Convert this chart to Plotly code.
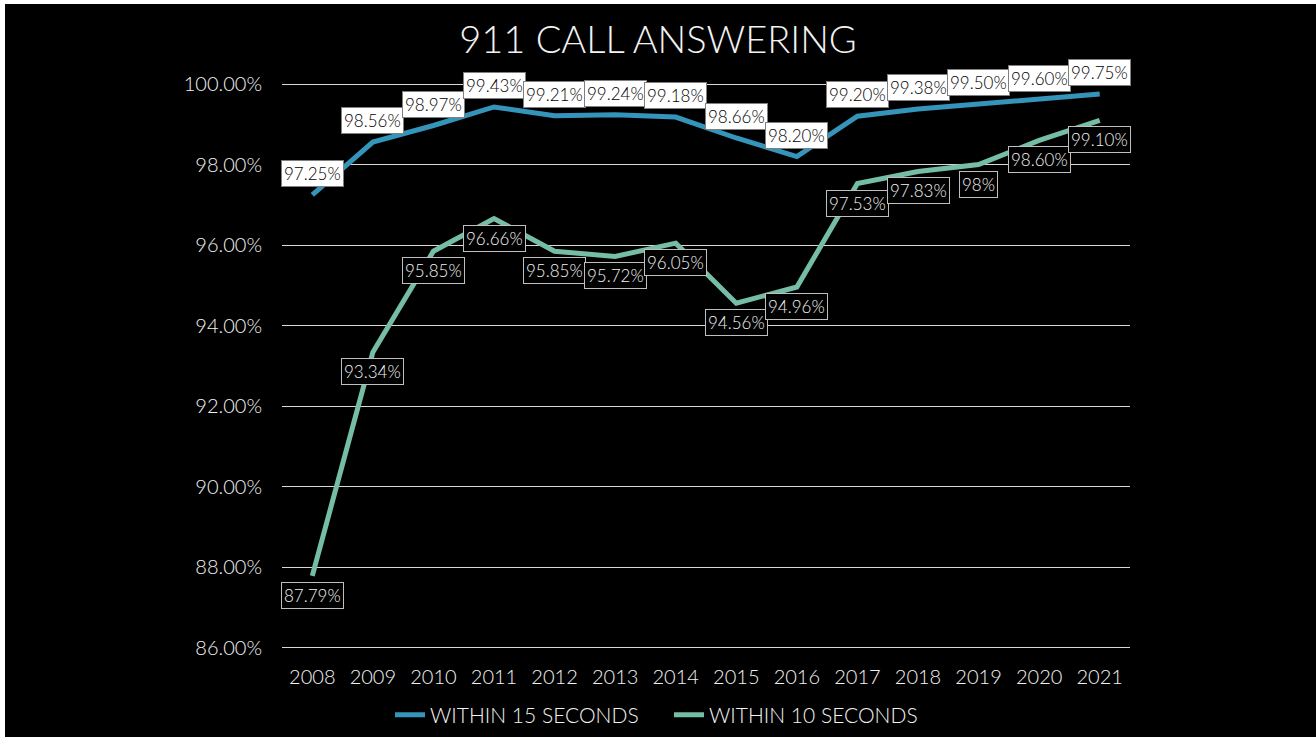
import plotly.graph_objects as go

# Years on the category axis
years = ["2008", "2009", "2010", "2011", "2012", "2013", "2014",
         "2015", "2016", "2017", "2018", "2019", "2020", "2021"]

# Share of 911 calls answered (percent)
within_15 = [97.25, 98.56, 98.97, 99.43, 99.21, 99.24, 99.18,
             98.66, 98.20, 99.20, 99.38, 99.50, 99.60, 99.75]
within_10 = [87.79, 93.34, 95.85, 96.66, 95.85, 95.72, 96.05,
             94.56, 94.96, 97.53, 97.83, 98.00, 98.60, 99.10]

y_ticks = [86, 88, 90, 92, 94, 96, 98, 100]
y_tick_text = [f"{v:.2f}%" for v in y_ticks]

FONT = "Lato"
LABEL_FONT = "Lato Light, Lato"
TEXT = "#f2f2f2"
BLUE = "#3494ba"
TEAL = "#75bda7"


def pct_label(v):
    return f"{int(v)}%" if float(v).is_integer() else f"{v:.2f}%"


fig = go.Figure()
fig.add_trace(go.Scatter(x=years, y=within_15, mode="lines", name="WITHIN 15 SECONDS",
                         line=dict(color=BLUE, width=5)))
fig.add_trace(go.Scatter(x=years, y=within_10, mode="lines", name="WITHIN 10 SECONDS",
                         line=dict(color=TEAL, width=5)))

fig.update_layout(
    width=1316, height=737,
    paper_bgcolor="black", plot_bgcolor="black",
    margin=dict(l=282, r=186, t=82, b=87, autoexpand=False),
    title=dict(text="911 CALL ANSWERING", x=0.5, xref="container", xanchor="center",
               y=1 - 40 / 737, yanchor="middle",
               font=dict(family=FONT, size=38, color=TEXT, weight=300)),
    xaxis=dict(type="category", range=[-0.5, 13.5], showgrid=False, zeroline=False,
               showline=False, ticks="", ticklabelstandoff=13,
               tickfont=dict(family=FONT, size=20, color=TEXT, weight=300)),
    yaxis=dict(range=[85.95, 100.05], tickvals=y_ticks, ticktext=y_tick_text,
               showgrid=True, gridcolor="#d9d9d9", gridwidth=1, zeroline=False,
               showline=False, ticks="", ticklabelstandoff=19,
               tickfont=dict(family=FONT, size=20, color=TEXT, weight=300)),
    legend=dict(orientation="h", x=(390 - 282) / 848, xanchor="left",
                y=(650 - 715) / 568, yanchor="middle", itemwidth=30,
                entrywidth=234, entrywidthmode="pixels",
                font=dict(family=FONT, size=21, color=TEXT, weight=300),
                bgcolor="rgba(0,0,0,0)"),
    showlegend=True,
)

# Labels above the 15-second line: white boxes, dark text
for i, v in enumerate(within_15):
    fig.add_annotation(x=i, y=v, xref="x", yref="y", text=pct_label(v), showarrow=False,
                       yanchor="bottom", yshift=8, bgcolor="white", bordercolor="#7f7f7f",
                       borderwidth=1, borderpad=2,
                       font=dict(family=LABEL_FONT, size=17, color="#000000"))
# Labels below the 10-second line: black boxes, light outline
for i, v in enumerate(within_10):
    fig.add_annotation(x=i, y=v, xref="x", yref="y", text=pct_label(v), showarrow=False,
                       yanchor="top", yshift=-6, bgcolor="black", bordercolor="#bfbfbf",
                       borderwidth=1, borderpad=2,
                       font=dict(family=LABEL_FONT, size=17, color=TEXT))

# Thin white frame at the top and left edges of the slide
fig.add_shape(type="rect", xref="paper", yref="paper",
              x0=(0 - 282) / 848, x1=(5 - 282) / 848, y0=(650 - 737) / 568, y1=(650 - 0) / 568,
              fillcolor="white", line=dict(width=0))
fig.add_shape(type="rect", xref="paper", yref="paper",
              x0=(0 - 282) / 848, x1=(1316 - 282) / 848, y0=(650 - 4) / 568, y1=(650 - 0) / 568,
              fillcolor="white", line=dict(width=0))

fig.write_html("out.html")
